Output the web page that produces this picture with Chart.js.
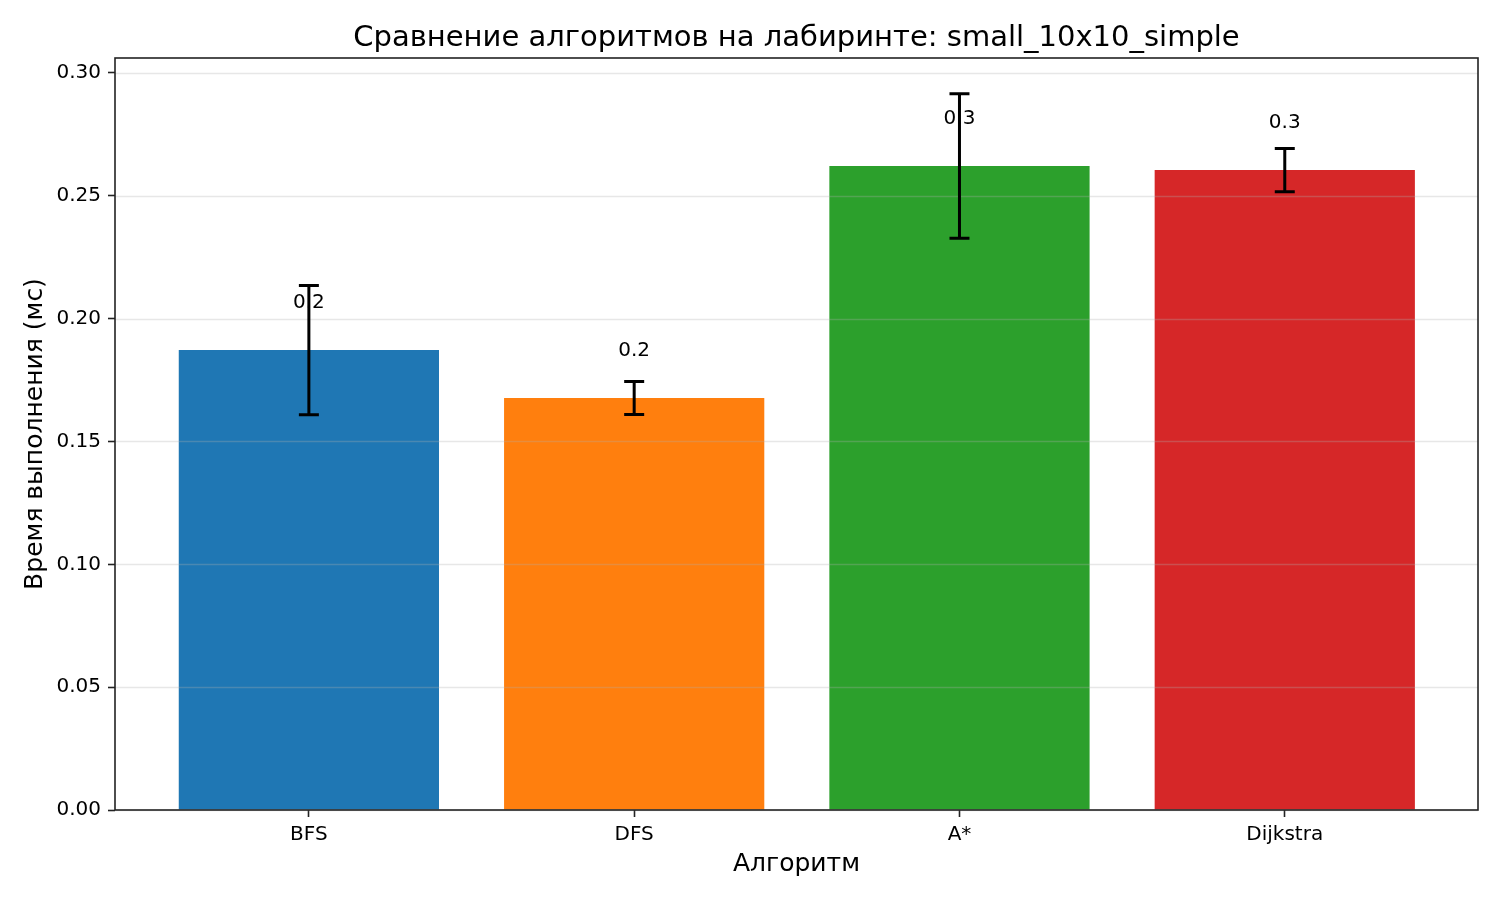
<!DOCTYPE html>
<html>
<head>
<meta charset="utf-8">
<script src="https://cdn.jsdelivr.net/npm/chart.js@4.4.1/dist/chart.umd.min.js"></script>
<style>
  html, body { margin: 0; padding: 0; background: #ffffff; }
  #chart { display: block; }
</style>
</head>
<body>
<canvas id="chart" width="1500" height="900"></canvas>
<script>
// --- Data ---
const algorithms = ['BFS', 'DFS', 'A*', 'Dijkstra'];
const meanTimes = [0.1872, 0.1677, 0.2621, 0.2605];
const stdTimes = [0.0263, 0.0067, 0.0294, 0.0088];
const barColors = ['#1f77b4', '#ff7f0e', '#2ca02c', '#d62728'];
const yTicks = [0, 0.05, 0.10, 0.15, 0.20, 0.25, 0.30];
const xTicks = [0, 1, 2, 3];

const chartTitle = 'Сравнение алгоритмов на лабиринте: small_10x10_simple';
const xTitle = 'Алгоритм';
const yTitle = 'Время выполнения (мс)';

const FONT = "'DejaVu Sans', sans-serif";
const INK = '#222222';

// matplotlib-like overlay: grid on top of bars, value labels, error bars, frame
const overlayPlugin = {
    id: 'overlay',
    afterDatasetsDraw(chart) {
        const { ctx, chartArea: area, scales: { x, y } } = chart;
        ctx.save();

        // horizontal grid
        ctx.strokeStyle = 'rgba(176,176,176,0.3)';
        ctx.lineWidth = 1.6;
        yTicks.forEach(v => {
            const py = Math.round(y.getPixelForValue(v)) + 0.5;
            ctx.beginPath();
            ctx.moveTo(area.left, py);
            ctx.lineTo(area.right, py);
            ctx.stroke();
        });

        // value labels
        ctx.fillStyle = '#000';
        ctx.font = '20px ' + FONT;
        ctx.textAlign = 'center';
        ctx.textBaseline = 'middle';
        meanTimes.forEach((v, i) => {
            ctx.fillText(v.toFixed(1), x.getPixelForValue(i), y.getPixelForValue(v) - 47);
        });

        // error bars
        ctx.strokeStyle = '#000';
        ctx.lineWidth = 3;
        meanTimes.forEach((v, i) => {
            const px = x.getPixelForValue(i);
            const top = y.getPixelForValue(v + stdTimes[i]);
            const bot = y.getPixelForValue(v - stdTimes[i]);
            ctx.beginPath();
            ctx.moveTo(px, top); ctx.lineTo(px, bot);
            ctx.moveTo(px - 10, top); ctx.lineTo(px + 10, top);
            ctx.moveTo(px - 10, bot); ctx.lineTo(px + 10, bot);
            ctx.stroke();
        });

        // axes frame
        ctx.strokeStyle = INK;
        ctx.lineWidth = 1.6;
        ctx.strokeRect(area.left, area.top, area.right - area.left, area.bottom - area.top);

        // title
        ctx.fillStyle = '#000';
        ctx.font = '29px ' + FONT;
        ctx.textBaseline = 'alphabetic';
        ctx.fillText(chartTitle, (area.left + area.right) / 2, area.top - 12);
        ctx.restore();
    }
};

const ctx = document.getElementById('chart').getContext('2d');
new Chart(ctx, {
    type: 'bar',
    data: {
        datasets: [{
            data: meanTimes.map((v, i) => ({ x: i, y: v })),
            backgroundColor: barColors,
            borderWidth: 0,
            categoryPercentage: 1.0,
            barPercentage: 0.8
        }]
    },
    options: {
        responsive: false,
        animation: false,
        layout: { padding: { top: 58, right: 22, left: 0, bottom: 0 } },
        plugins: {
            legend: { display: false },
            tooltip: { enabled: false }
        },
        scales: {
            x: {
                type: 'linear',
                offset: false,
                min: -0.596,
                max: 3.594,
                afterBuildTicks: s => { s.ticks = xTicks.map(v => ({ value: v })); },
                afterFit: s => { s.height = 90; },
                ticks: {
                    callback: v => algorithms[v],
                    color: '#000',
                    font: { family: FONT, size: 20 },
                    padding: 6,
                    maxRotation: 0,
                    autoSkip: false
                },
                grid: {
                    offset: false,
                    drawOnChartArea: false,
                    drawTicks: true,
                    tickLength: 7,
                    tickColor: INK,
                    tickWidth: 1.6
                },
                border: { display: false },
                title: {
                    display: true,
                    text: xTitle,
                    color: '#000',
                    font: { family: FONT, size: 25 },
                    padding: { top: 0, bottom: 21 }
                }
            },
            y: {
                min: 0,
                max: 0.3061,
                afterBuildTicks: s => { s.ticks = yTicks.map(v => ({ value: v })); },
                afterFit: s => { s.width = 115; },
                ticks: {
                    callback: v => v.toFixed(2),
                    color: '#000',
                    font: { family: FONT, size: 20 },
                    padding: 7
                },
                grid: {
                    drawOnChartArea: false,
                    drawTicks: true,
                    tickLength: 7,
                    tickColor: INK,
                    tickWidth: 1.6
                },
                border: { display: false },
                title: {
                    display: true,
                    text: yTitle,
                    color: '#000',
                    font: { family: FONT, size: 25 },
                    padding: { top: 20, bottom: 0 }
                }
            }
        }
    },
    plugins: [overlayPlugin]
});
</script>
</body>
</html>
